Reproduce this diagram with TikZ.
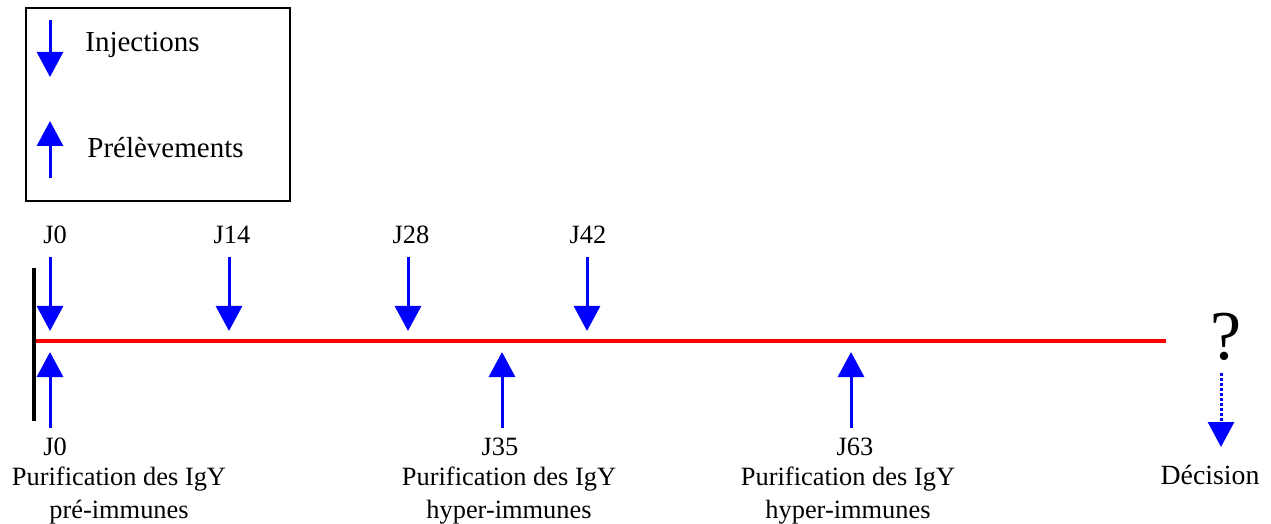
\documentclass[tikz,border=0pt]{standalone}
\usepackage{fontspec}
\setmainfont{Liberation Serif}
\usetikzlibrary{positioning, arrows.meta}
\definecolor{shotblue}{RGB}{0,0,255}
\tikzset{
  shot/.style={-{Triangle[width=13pt,length=12.5pt]}, line width=1.5pt, shotblue},
  lbl/.style={font=\fontsize{13.2}{16.5}\selectfont, inner sep=0pt, align=center},
  leglbl/.style={font=\fontsize{14.5}{17}\selectfont, inner sep=0pt}
}

\begin{document}
\begin{tikzpicture}[x=0.5pt, y=-0.5pt]
        \useasboundingbox (0,0) rectangle (1271,524);
        % legend
        \node[draw, line width=1pt, minimum width=132pt, minimum height=96.5pt, inner sep=0pt] (legend) at (158,104.5) {};
        \coordinate (legtop) at (50,20);
        \coordinate (legdown) at (50,77);
        \coordinate (legup) at (50,121);
        \coordinate (legbot) at (50,178);
        \draw[shot] (legtop) -- (legdown);
        \draw[shot] (legbot) -- (legup);
        \node[leglbl, anchor=base west] (inj) at (85,52) {Injections};
        \node[leglbl, anchor=base west] (prel) at (87,158) {Prélèvements};
        % time axis
        \coordinate (start) at (35,341);
        \coordinate (stop) at (1166,341);
        \draw[line width=2pt, red] (start) -- (stop);
        \coordinate (bartop) at (34,268);
        \coordinate (barbot) at (34,421);
        \draw[line width=2pt] (bartop) -- (barbot);
        % injections
        \node[lbl, anchor=base] (dJ0) at (55,243) {J0};
        \node[lbl, anchor=base] (dJ14) at (232,243) {J14};
        \node[lbl, anchor=base] (dJ28) at (411,243) {J28};
        \node[lbl, anchor=base] (dJ42) at (588,243) {J42};
        \coordinate (a0) at (50,257);   \coordinate (b0) at (50,331);
        \coordinate (a14) at (229,257); \coordinate (b14) at (229,331);
        \coordinate (a28) at (408,257); \coordinate (b28) at (408,331);
        \coordinate (a42) at (587,257); \coordinate (b42) at (587,331);
        \draw[shot] (a0) -- (b0);
        \draw[shot] (a14) -- (b14);
        \draw[shot] (a28) -- (b28);
        \draw[shot] (a42) -- (b42);
        % bleedings
        \coordinate (u0) at (50,428);   \coordinate (v0) at (50,352);
        \coordinate (u35) at (502,428); \coordinate (v35) at (502,352);
        \coordinate (u63) at (851,428); \coordinate (v63) at (851,352);
        \draw[shot] (u0) -- (v0);
        \draw[shot] (u35) -- (v35);
        \draw[shot] (u63) -- (v63);
        \node[lbl, anchor=base] (pJ0) at (55,455) {J0};
        \node[lbl, anchor=base] (pJ35) at (500,455) {J35};
        \node[lbl, anchor=base] (pJ63) at (855,455) {J63};
        \node[lbl, anchor=north] (pur0) at (119,467) {Purification des IgY\\pré-immunes};
        \node[lbl, anchor=north] (pur35) at (509,467) {Purification des IgY\\hyper-immunes};
        \node[lbl, anchor=north] (pur63) at (848,467) {Purification des IgY\\hyper-immunes};
        % decision
        \node[inner sep=0pt, font=\fontsize{35}{40}\selectfont] (ask) at (1226,337) {?};
        \coordinate (dectop) at (1221,373);
        \coordinate (decbot) at (1221,447);
        \draw[shot, dash pattern=on 1.4pt off 1.1pt] (dectop) -- (decbot);
        \node[lbl, font=\fontsize{13.9}{16}\selectfont] (dec) at (1210,475) {Décision};
      \end{tikzpicture}
\end{document}
